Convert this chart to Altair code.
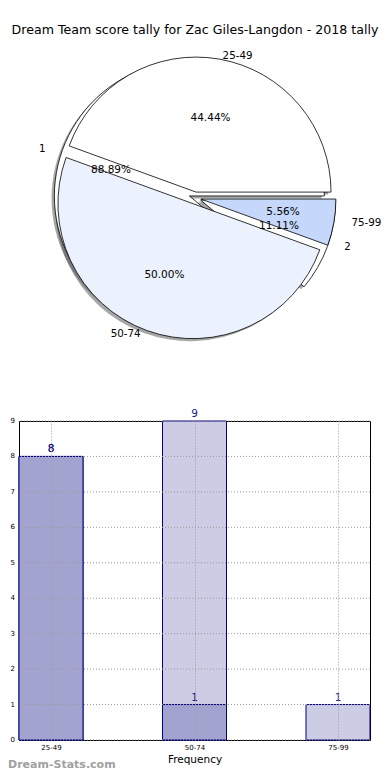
import numpy as np
import pandas as pd
import altair as alt

# ---------------- data ----------------
TITLE = "Dream Team score tally for Zac Giles-Langdon - 2018 tally"
ranges = ["25-49", "50-74", "75-99"]
range_counts = [8, 9, 1]
range_colors = ["#ffffff", "#ebf1fd", "#c5d8fb"]
group_labels = ["1", "2"]
group_counts = [16, 2]
group_colors = ["#ffffff", "#ffffff"]
bar_total = [8, 9, 1]
bar_part = [8, 1, 0]
y_ticks = list(range(10))
WATERMARK = "Dream-Stats.com"

# ---------------- layout (pixels, relative to bar plot origin) ----------------
PW, PH = 351, 319
CX, CY = 176, -223      # pie centre
RX, RY = 139, 126       # label ellipse
R = 135                 # wedge radius
EXPLODE = 6
SH_DX, SH_DY = -2.8, 2.5
HALF = 0.223


def pie_frame(labels, values, colors):
    v = np.array(values, dtype=float)
    tot = v.sum()
    cum = np.cumsum(v)
    start = np.concatenate([[0.0], cum[:-1]])
    a1 = 360 * start / tot
    a2 = 360 * cum / tot
    mid = np.radians((a1 + a2) / 2)
    cx = CX + EXPLODE * np.cos(mid)
    cy = CY - EXPLODE * np.sin(mid)
    return pd.DataFrame({
        "label": labels,
        "pct": [f"{100 * x / tot:.2f}%" for x in v],
        "color": colors,
        "cx": cx, "cy": cy,
        "sx": cx + SH_DX, "sy": cy + SH_DY,
        "t1": np.radians(90 - a2) + 2 * np.pi,
        "t2": np.radians(90 - a1) + 2 * np.pi,
        "lx": cx + 1.1 * RX * np.cos(mid),
        "ly": cy - 1.1 * RY * np.sin(mid),
        "px": cx + 0.6 * RX * np.cos(mid),
        "py": cy - 0.6 * RY * np.sin(mid),
        "side": np.where(np.cos(mid) >= 0, "left", "right"),
    })


outer = pie_frame(group_labels, group_counts, group_colors)
inner = pie_frame(ranges, range_counts, range_colors)
pie_all = pd.concat([outer, inner], ignore_index=True)

FONT = "DejaVu Sans"


def shadow(df):
    return alt.Chart(df).mark_arc(radius=R, fill="#4d4d4d", opacity=0.5).encode(
        x=alt.X("sx:Q", scale=None, axis=None),
        y=alt.Y("sy:Q", scale=None, axis=None),
        theta=alt.Theta("t1:Q", scale=None),
        theta2=alt.Theta2("t2:Q"),
    )


def wedges(df):
    return alt.Chart(df).mark_arc(radius=R, stroke="black", strokeWidth=0.8).encode(
        x=alt.X("cx:Q", scale=None, axis=None),
        y=alt.Y("cy:Q", scale=None, axis=None),
        theta=alt.Theta("t1:Q", scale=None),
        theta2=alt.Theta2("t2:Q"),
        fill=alt.Fill("color:N", scale=None),
    )


def labels(df, side):
    return alt.Chart(df).transform_filter(alt.datum.side == side).mark_text(
        align=side, baseline="middle", font=FONT, fontSize=10.3, color="black"
    ).encode(
        x=alt.X("lx:Q", scale=None, axis=None),
        y=alt.Y("ly:Q", scale=None, axis=None),
        text="label:N",
    )


pcts = alt.Chart(pie_all).mark_text(
    align="center", baseline="middle", font=FONT, fontSize=10.5, color="black"
).encode(
    x=alt.X("px:Q", scale=None, axis=None),
    y=alt.Y("py:Q", scale=None, axis=None),
    text="pct:N",
)

title = alt.Chart(pd.DataFrame({"t": [TITLE]})).mark_text(
    align="center", baseline="middle", font=FONT, fontSize=12.6, color="black"
).encode(x=alt.value(176), y=alt.value(-391), text="t:N")

mark_wm = alt.Chart(pd.DataFrame({"t": [WATERMARK]})).mark_text(
    align="left", baseline="middle", font=FONT, fontSize=11, color="#a0a0a0", fontWeight="bold"
).encode(x=alt.value(-11), y=alt.value(344), text="t:N")

# ---------------- bars ----------------
bars_df = pd.DataFrame({
    "cat": ranges,
    "idx": list(range(len(ranges))),
    "total": bar_total,
    "part": bar_part,
})
bars_df["lo"] = bars_df["idx"] - HALF
bars_df["hi"] = bars_df["idx"] + HALF
ticks_df = pd.DataFrame({"v": y_ticks})

label_expr = "[" + ",".join(f"'{c}'" for c in ranges) + "][datum.value]"
xscale = alt.Scale(domain=[-HALF, len(ranges) - 1 + HALF], nice=False, zero=False)
yscale = alt.Scale(domain=[0, 9], nice=False, zero=True)

x_enc = alt.X("lo:Q", scale=xscale, axis=alt.Axis(
    values=list(range(len(ranges))), labelExpr=label_expr, title="Frequency",
    grid=True, ticks=False, domain=False, labelFontSize=7, labelPadding=3,
    titleFontSize=10.5, titleFont=FONT, titleFontWeight="normal", titlePadding=4,
    labelFont=FONT, labelOverlap=False, zindex=1))

light = alt.Chart(bars_df).mark_rect(fill="#ccccE4", stroke="#000080", strokeWidth=1).encode(
    x=x_enc, x2="hi:Q",
    y=alt.Y("total:Q", scale=yscale, axis=None), y2=alt.datum(0),
)
dark = alt.Chart(bars_df).transform_filter(alt.datum.part > 0).mark_rect(
    fill="#a3a3cf", stroke="#000080", strokeWidth=1).encode(
    x="lo:Q", x2="hi:Q", y=alt.Y("part:Q", axis=None), y2=alt.datum(0),
)
grid_y = alt.Chart(ticks_df).mark_rule(color="#9a9a9a", strokeDash=[1, 2], strokeWidth=1).encode(
    y=alt.Y("v:Q", axis=None))
ylabels = alt.Chart(ticks_df).mark_text(
    align="right", baseline="middle", font=FONT, fontSize=7, color="black").encode(
    x=alt.value(-4), y=alt.Y("v:Q", axis=None), text="v:Q")
light_txt = alt.Chart(bars_df).mark_text(
    baseline="bottom", dy=-2, font=FONT, fontSize=10.5, color="#1a1a85").encode(
    x="idx:Q", y=alt.Y("total:Q", axis=None), text="total:Q")
dark_txt = alt.Chart(bars_df).transform_filter(alt.datum.part > 0).mark_text(
    baseline="bottom", dy=-2, font=FONT, fontSize=10.5, color="#1a1a85").encode(
    x="idx:Q", y=alt.Y("part:Q", axis=None), text="part:Q")

chart = alt.layer(
    shadow(pie_all), wedges(outer), wedges(inner),
    labels(pie_all, "left"), labels(pie_all, "right"), pcts, title,
    light, dark, grid_y, ylabels, light_txt, dark_txt, mark_wm,
).properties(
    width=PW, height=PH,
    padding={"left": 11, "top": 413, "right": 12, "bottom": 32},
    autosize=alt.AutoSizeParams(type="none"),
).configure_view(
    stroke="black", strokeWidth=1
).configure_axis(
    gridColor="#9a9a9a", gridDash=[1, 2], gridWidth=1, labelColor="black", titleColor="black"
)

chart.save("out.html", embed_options={"renderer": "svg", "actions": False})
